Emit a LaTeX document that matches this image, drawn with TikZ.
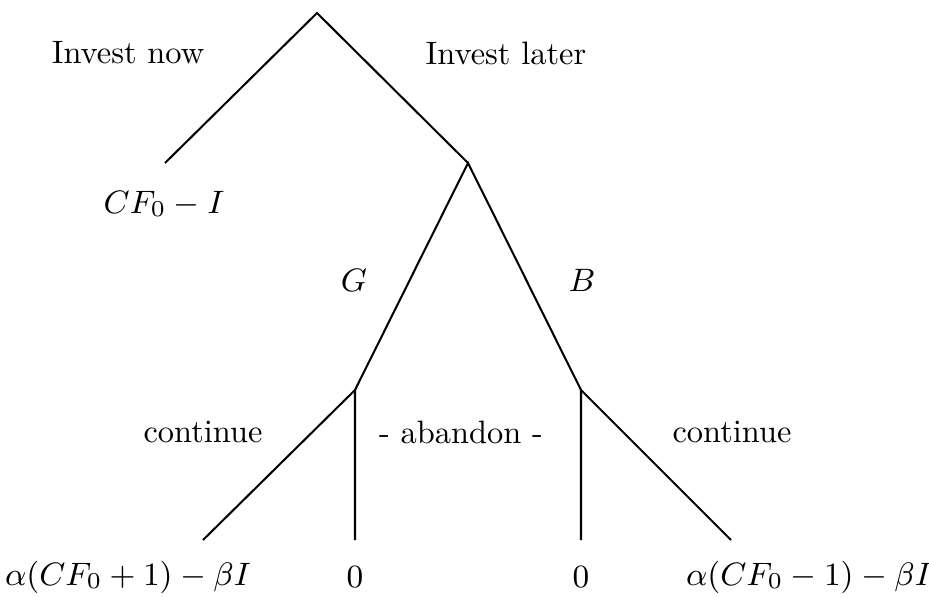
\RequirePackage{fix-cm}
\documentclass[tikz,border=0pt]{standalone}
\usepackage{amsmath,amssymb}
\usetikzlibrary{positioning}

\begin{document}
\begin{tikzpicture}[
    x=0.0104cm, y=-0.0104cm,
    branch/.style={semithick},
    lbl/.style={inner sep=1pt, font=\fontsize{9.6pt}{11.5pt}\selectfont}
]
\useasboundingbox (0,0) rectangle (929,597);
% branch points
\coordinate (root) at (317,13);
\coordinate (now) at (165,163);
\coordinate (later) at (468,163);
\coordinate (good) at (355,390);
\coordinate (bad) at (581,390);
\coordinate (gc) at (203,540);
\coordinate (ga) at (355,540);
\coordinate (ba) at (581,540);
\coordinate (bc) at (731,540);

\draw[branch] (now) -- (root) -- (later);
\draw[branch] (good) -- (later) -- (bad);
\draw[branch] (gc) -- (good) -- (ga);
\draw[branch] (ba) -- (bad) -- (bc);

% labels
\node[lbl] (lnow) at (128,53) {Invest now};
\node[lbl] (llater) at (506,53) {Invest later};
\node[lbl] (pnow) at (164,204) {$CF_0-I$};
\node[lbl] (lgood) at (354,280) {$G$};
\node[lbl] (lbad) at (582,280) {$B$};
\node[lbl] (lcont1) at (203,432) {continue};
\node[lbl] (laband) at (461,432) {- abandon -};
\node[lbl] (lcont2) at (732,432) {continue};
\node[lbl] (pgc) at (128,577) {$\alpha(CF_0+1)-\beta I$};
\node[lbl] (pga) at (355,577) {$0$};
\node[lbl] (pba) at (581,577) {$0$};
\node[lbl] (pbc) at (809,577) {$\alpha(CF_0-1)-\beta I$};
\end{tikzpicture}
\end{document}
